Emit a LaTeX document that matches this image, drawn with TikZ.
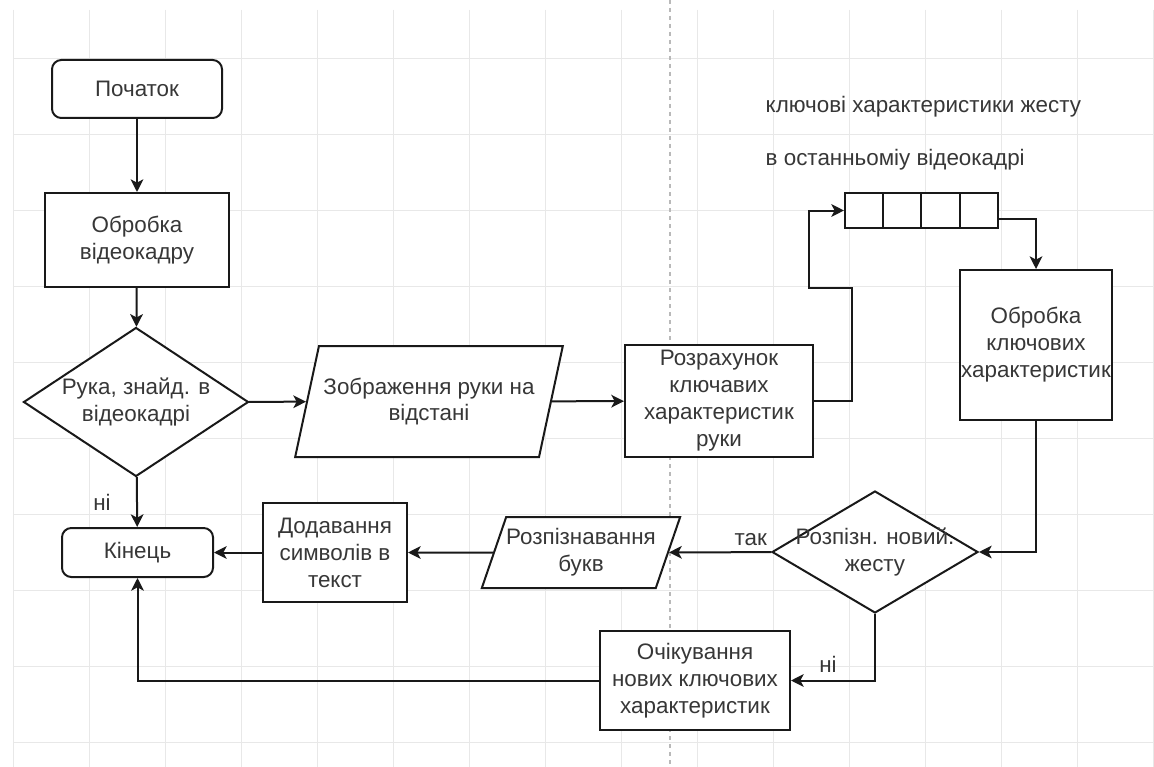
\documentclass[tikz,border=0pt]{standalone}
\usepackage{fontspec}
\setmainfont{Liberation Sans}
\usetikzlibrary{shapes.geometric,arrows.meta}
\definecolor{fcline}{RGB}{25,25,25}
\definecolor{fctext}{RGB}{55,55,55}
\definecolor{fcgrid}{RGB}{232,232,232}
\definecolor{fcdash}{RGB}{185,185,185}

\tikzset{
  block/.style={draw=fcline, line width=1.5pt, fill=white, inner sep=0pt, align=center, text=fctext},
  procbox/.style={block, rectangle},
  termbox/.style={block, rectangle, rounded corners=7pt},
  decbox/.style={block, diamond},
  iobox/.style={block, trapezium, trapezium stretches=true},
  conn/.style={-{Stealth[length=9.5pt,width=9.5pt,inset=2.5pt]}, draw=fcline, line width=1.5pt},
  edgelabel/.style={text=fctext, inner sep=0pt},
  gridline/.style={draw=fcgrid, line width=0.6pt}
}

\begin{document}
\begin{tikzpicture}[x=0.75pt, y=-0.75pt, font=\fontsize{16.8pt}{20.2pt}\selectfont]
\fill[white] (0,0) rectangle (1154,767);
\useasboundingbox (0,0) rectangle (1154,767);

% Background grid
\foreach \gx in {13,89,...,1153}
  \draw[gridline] (\gx,10) -- (\gx,767);
\foreach \gy in {58,134,...,742}
  \draw[gridline] (13,\gy) -- (1154,\gy);
\draw[fcdash, dashed, line width=0.8pt] (670,0) -- (670,767);

% Left column
\node[termbox, minimum width=127.5pt, minimum height=43.5pt] (start) at (137,89) {Початок};
\node[procbox, minimum width=138pt, minimum height=70.5pt] (frame) at (137,240) {Обробка\\відеокадру};
\node[decbox, shape aspect=1.5, minimum width=168.75pt, minimum height=111.75pt] (hand) at (136,402) {Рука, знайд. в\\відеокадрі};
\node[termbox, minimum width=113.25pt, minimum height=36.75pt] (finish) at (137.5,552.5) {Кінець};

% Middle row
\node[iobox, trapezium left angle=64.5, trapezium right angle=115.5, minimum width=201pt, minimum height=83.25pt] (handimg) at (429,401.5) {Зображення руки на\\відстані};
\node[procbox, minimum width=141pt, minimum height=84pt] (calc) at (719,401) {Розрахунок\\ключавих\\характеристик\\руки};

% Buffer of key features
\node[anchor=west, text=fctext] (buftitle) at (761,107) {ключові характеристики жесту};
\node[anchor=west, text=fctext] (bufsub) at (761,160) {в останньоміу відеокадрі};
\foreach \i in {1,...,4}
  \node[procbox, minimum width=28.7pt, minimum height=26.25pt] (q\i) at ({864.1+38.25*(\i-1)},210.5) {};

% Right column
\node[procbox, minimum width=114pt, minimum height=112.5pt] (keyproc) at (1036,345) {Обробка\\ключових\\характеристик};
\node[decbox, shape aspect=1.69, inner xsep=-16pt, minimum width=154.5pt, minimum height=91.5pt] (newgest) at (875,552) {Розпізн. новий.\\жесту};

% Bottom row
\node[iobox, trapezium left angle=63, trapezium right angle=117, minimum width=141pt, minimum height=53.25pt] (letters) at (581,552.5) {Розпізнавання\\букв};
\node[procbox, minimum width=108pt, minimum height=74.25pt] (addtext) at (335,552.5) {Додавання\\символів в\\текст};
\node[procbox, minimum width=142.5pt, minimum height=74.25pt] (waitkeys) at (695,680.5) {Очікування\\нових ключових\\характеристик};

% Connectors
\draw[conn] (start) -- (frame);
\draw[conn] (frame) -- (hand);
\draw[conn] (hand) -- node[edgelabel, left=19pt] {ні} (finish);
\draw[conn] (hand) -- (handimg);
\draw[conn] (handimg) -- (calc);
\draw[conn] (calc.east) -- ++(38,0) -- ++(0,-113) -- ++(-43,0) |- (q1.west);
\draw[conn] ([yshift=-6.4pt]q4.east) -| (keyproc.north);
\draw[conn] (keyproc.south) |- (newgest.east);
\draw[conn] (newgest) -- node[edgelabel, pos=0.2, above=4pt] {так} (letters);
\draw[conn] (letters) -- (addtext);
\draw[conn] (addtext) -- (finish);
\draw[conn] (newgest.south) |- node[edgelabel, pos=0.78, above=5pt] {ні} (waitkeys.east);
\draw[conn] (waitkeys.west) -| (finish.south);
\end{tikzpicture}
\end{document}
